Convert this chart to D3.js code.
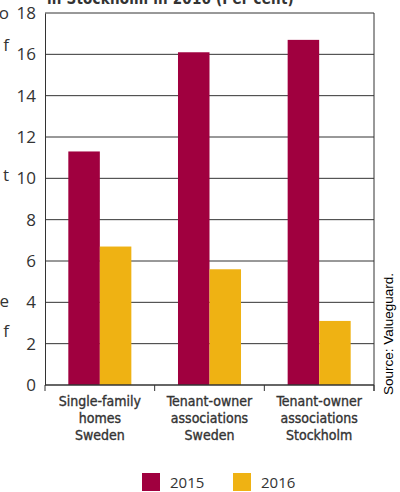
<!DOCTYPE html>
<html>

<head>
    <meta charset="utf-8">
    <script src="https://cdn.jsdelivr.net/npm/d3@7"></script>
    <title>Price change</title>
    <style>
        body { margin: 0; background: #fff; }
        svg { display: block; }
    </style>
    <script>
    var categories = [
        ['Single-family', 'homes', 'Sweden'],
        ['Tenant-owner', 'associations', 'Sweden'],
        ['Tenant-owner', 'associations', 'Stockholm']
    ];
    var years = ['2015', '2016'];
    var values2015 = [11.3, 16.1, 16.7];
    var values2016 = [6.7, 5.6, 3.1];
    var yTicks = [0, 2, 4, 6, 8, 10, 12, 14, 16, 18];
    var colors = ['#a0003f', '#efb213'];

    window.onload = function() {
        var W = 400, H = 492;
        var m = { left: 45, right: 26, top: 13, bottom: 107 };
        var svg = d3.select('body').append('svg')
            .attr('width', W)
            .attr('height', H);

        var x = d3.scaleBand()
            .domain(d3.range(categories.length))
            .range([m.left, W - m.right]);
        var x1 = d3.scaleBand()
            .domain(years)
            .range([0, x.bandwidth()])
            .paddingInner(0)
            .paddingOuter(0.74);
        var y = d3.scaleLinear()
            .domain([0, 18])
            .range([H - m.bottom, m.top]);

        // cut-off text from the page around the chart
        svg.append('text')
            .attr('x', 47).attr('y', 3.5)
            .attr('font-family', 'DejaVu Sans Condensed')
            .attr('font-weight', 'bold')
            .attr('font-size', 15)
            .attr('letter-spacing', 0.2)
            .attr('fill', '#333')
            .text('in Stockholm in 2016 (Per cent)');
        var edge = [['o', 19], ['f', 51], ['t', 181], ['e', 307], ['f', 337]];
        svg.selectAll('.edge').data(edge).enter().append('text')
            .attr('class', 'edge')
            .attr('x', 9).attr('y', function(d) { return d[1]; })
            .attr('text-anchor', 'end')
            .attr('font-family', 'Open Sans')
            .attr('font-size', 17)
            .attr('fill', '#333')
            .text(function(d) { return d[0]; });

        // gridlines
        svg.append('g').selectAll('line')
            .data(yTicks.slice(1))
            .enter().append('line')
            .attr('x1', m.left).attr('x2', W - m.right)
            .attr('y1', function(d) { return y(d); })
            .attr('y2', function(d) { return y(d); })
            .attr('stroke', '#333')
            .attr('stroke-width', 1);

        // bars
        var series = [values2015, values2016];
        years.forEach(function(yr, s) {
            svg.append('g').selectAll('rect')
                .data(series[s])
                .enter().append('rect')
                .attr('x', function(d, i) { return x(i) + x1(yr); })
                .attr('y', function(d) { return y(d); })
                .attr('width', x1.bandwidth())
                .attr('height', function(d) { return y(0) - y(d); })
                .attr('fill', colors[s]);
        });

        // y axis
        var yAxis = d3.axisLeft(y).tickValues(yTicks).tickSize(0).tickPadding(9);
        var gy = svg.append('g')
            .attr('transform', 'translate(' + m.left + ',0)')
            .call(yAxis);
        gy.select('.domain').attr('stroke', '#333');
        gy.selectAll('text')
            .attr('font-family', 'Open Sans')
            .attr('font-size', 17)
            .attr('fill', '#333');

        // right border
        svg.append('line')
            .attr('x1', W - m.right).attr('x2', W - m.right)
            .attr('y1', m.top).attr('y2', y(0) + 6)
            .attr('stroke', '#333');

        // x axis with ticks at band edges
        svg.append('line')
            .attr('x1', m.left).attr('x2', W - m.right)
            .attr('y1', y(0)).attr('y2', y(0))
            .attr('stroke', '#333').attr('stroke-width', 1.5);
        svg.append('g').selectAll('line')
            .data(d3.range(categories.length + 1))
            .enter().append('line')
            .attr('x1', function(d) { return m.left + d * x.bandwidth(); })
            .attr('x2', function(d) { return m.left + d * x.bandwidth(); })
            .attr('y1', y(0)).attr('y2', y(0) + 6)
            .attr('stroke', '#333');

        // category labels
        var lab = svg.append('g').selectAll('text')
            .data(categories)
            .enter().append('text')
            .attr('x', function(d, i) { return x(i) + x.bandwidth() / 2; })
            .attr('y', 406)
            .attr('text-anchor', 'middle')
            .attr('font-family', 'DejaVu Sans Condensed')
            .attr('font-size', 14)
            .attr('fill', '#333')
            .attr('stroke', '#333')
            .attr('stroke-width', 0.35);
        lab.selectAll('tspan')
            .data(function(d) { return d; })
            .enter().append('tspan')
            .attr('x', function() { return this.parentNode.getAttribute('x'); })
            .attr('dy', function(d, i) { return i ? 17 : 0; })
            .text(function(d) { return d; });

        // source
        svg.append('text')
            .attr('transform', 'translate(393,395) rotate(-90)')
            .attr('font-family', 'Liberation Sans')
            .attr('font-size', 13.5)
            .attr('fill', '#000')
            .text('Source: Valueguard.');

        // legend
        var leg = svg.append('g').selectAll('g')
            .data(years)
            .enter().append('g')
            .attr('transform', function(d, i) { return 'translate(' + (142 + i * 91) + ',473)'; });
        leg.append('rect')
            .attr('width', 18).attr('height', 18)
            .attr('fill', function(d, i) { return colors[i]; });
        leg.append('text')
            .attr('x', 28).attr('y', 15)
            .attr('font-family', 'Open Sans')
            .attr('font-size', 15)
            .attr('fill', '#333')
            .text(function(d) { return d; });
    };
    </script>
</head>

<body>
</body>

</html>
